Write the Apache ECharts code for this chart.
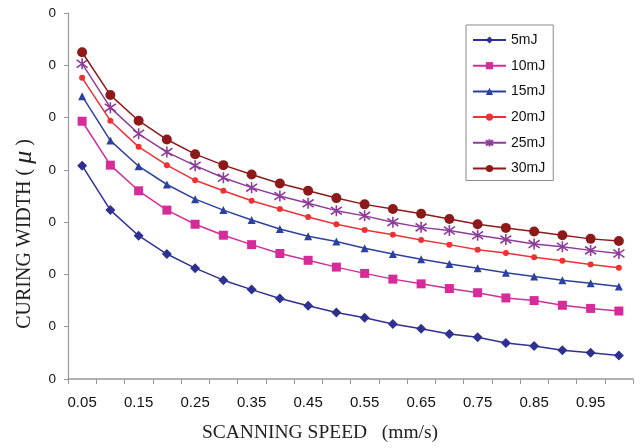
<!DOCTYPE html>
<html>
<head>
<meta charset="utf-8">
<script src="https://cdn.jsdelivr.net/npm/echarts@6/dist/echarts.min.js"></script>
<style>
html,body{margin:0;padding:0;background:#fff;}
#chart{width:641px;height:448px;}
</style>
</head>
<body>
<div id="chart"></div>
<script>
// Categories: scanning speed (mm/s)
var speeds = ['0.05','0.10','0.15','0.20','0.25','0.30','0.35','0.40','0.45','0.50',
              '0.55','0.60','0.65','0.70','0.75','0.80','0.85','0.90','0.95','1.00'];

// Series values (curing width)
var w5mJ  = [408, 323, 274, 239, 212, 189, 171, 154, 140, 127, 117, 105, 96, 86, 80, 69, 63, 55, 50, 45];
var w10mJ = [493, 409, 360, 323, 296, 275, 257, 240, 227, 214, 202, 191, 182, 173, 165, 155, 150, 141, 135, 130];
var w15mJ = [541, 456, 407, 372, 344, 323, 304, 287, 273, 263, 250, 239, 229, 220, 212, 203, 196, 189, 183, 177];
var w20mJ = [576, 494, 444, 409, 380, 360, 341, 325, 310, 296, 285, 276, 266, 257, 247, 241, 233, 226, 219, 213];
var w25mJ = [603, 519, 469, 434, 408, 385, 366, 350, 336, 322, 312, 300, 290, 284, 275, 267, 258, 253, 246, 240];
var w30mJ = [625, 543, 494, 458, 430, 409, 391, 374, 360, 346, 334, 325, 316, 306, 296, 289, 282, 275, 268, 264];

var seriesNames = ['5mJ', '10mJ', '15mJ', '20mJ', '25mJ', '30mJ'];

// Y-axis scale
var yMin = 0, yMax = 700, yStep = 100;

var colors = ['#2E3192', '#D62C9A', '#2C40A0', '#EF3134', '#8E3C9A', '#8C1A1A'];
var asterisk = 'path://M1.5,1.5L8.5,8.5M8.5,1.5L1.5,8.5M5,0L5,10';
var symbols = ['diamond', 'rect', 'triangle', 'circle', asterisk, 'circle'];
var symbolSizes = [10, 9, 8, 6, 11, 10];
var dataSets = [w5mJ, w10mJ, w15mJ, w20mJ, w25mJ, w30mJ];

var series = seriesNames.map(function (name, i) {
  var isAst = symbols[i] === asterisk;
  return {
    name: name,
    type: 'line',
    data: dataSets[i],
    symbol: symbols[i],
    symbolSize: symbolSizes[i],
    showAllSymbol: true,
    lineStyle: { color: colors[i], width: 1.5 },
    itemStyle: isAst
      ? { color: colors[i], borderColor: colors[i], borderWidth: 1.6 }
      : { color: colors[i], borderWidth: 0 },
    emphasis: { disabled: true },
    z: 2 + i
  };
});

var chart = echarts.init(document.getElementById('chart'), null, { renderer: 'canvas' });
chart.setOption({
  animation: false,
  backgroundColor: '#ffffff',
  grid: { left: 68, right: 8, top: 13, bottom: 69, containLabel: false },
  legend: {
    orient: 'vertical',
    left: 466,
    top: 25,
    padding: [8, 8, 5, 6],
    itemWidth: 33,
    itemHeight: 9,
    itemGap: 11.7,
    borderColor: '#8a8a8a',
    borderWidth: 1,
    backgroundColor: '#ffffff',
    selectedMode: false,
    textStyle: { fontFamily: 'Liberation Sans, Arial, sans-serif', fontSize: 14, color: '#111', padding: [0, 0, 0, 0] },
    data: seriesNames
  },
  xAxis: {
    type: 'category',
    data: speeds,
    boundaryGap: true,
    name: 'SCANNING SPEED   (mm/s)',
    nameLocation: 'middle',
    nameGap: 44,
    nameTextStyle: {
      fontFamily: 'Liberation Serif, Times New Roman, serif',
      fontSize: 19.5,
      color: '#222',
      padding: [0, 61, 0, 0]
    },
    axisLine: { show: true, lineStyle: { color: '#999', width: 1.5 } },
    axisTick: { show: true, interval: 0, length: 5, alignWithLabel: false, lineStyle: { color: '#999' } },
    axisLabel: {
      interval: 1,
      margin: 16,
      fontFamily: 'Liberation Sans, Arial, sans-serif',
      fontSize: 15,
      color: '#111'
    },
    splitLine: { show: false }
  },
  yAxis: {
    type: 'value',
    min: yMin,
    max: yMax,
    interval: yStep,
    name: 'CURING WIDTH ( {mu|μ} )',
    nameLocation: 'middle',
    nameRotate: 90,
    nameGap: 29,
    nameTextStyle: {
      fontFamily: 'Liberation Serif, Times New Roman, serif',
      fontSize: 20,
      color: '#222',
      padding: [0, 76, 0, 0],
      rich: {
        mu: { fontFamily: 'Liberation Serif, Times New Roman, serif', fontStyle: 'italic', fontSize: 26, color: '#222' }
      }
    },
    axisLine: { show: true, lineStyle: { color: '#999', width: 1.2 } },
    axisTick: { show: true, length: 4, lineStyle: { color: '#999' } },
    axisLabel: {
      margin: 12,
      fontFamily: 'Liberation Sans, Arial, sans-serif',
      fontSize: 13.5,
      color: '#111',
      formatter: function (v) { var s = String(v); return s.slice(-1); }
    },
    splitLine: { show: false }
  },
  series: series
});
</script>
</body>
</html>
